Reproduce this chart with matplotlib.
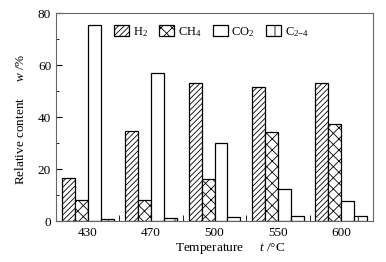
import numpy as np
import matplotlib
matplotlib.use('Agg')
import matplotlib.pyplot as plt
from matplotlib.ticker import MultipleLocator

plt.rcParams['font.family'] = ['Liberation Serif', 'DejaVu Serif']
plt.rcParams['mathtext.fontset'] = 'custom'
plt.rcParams['mathtext.rm'] = 'Liberation Serif'
plt.rcParams['mathtext.it'] = 'Liberation Serif:italic'
plt.rcParams['hatch.linewidth'] = 0.6

temps = ['430', '470', '500', '550', '600']
h2 = [16.5, 34.5, 53, 51.5, 53]
ch4 = [8, 8, 16, 34.2, 37.5]
co2 = [75.5, 57, 30, 12.3, 7.8]
c24 = [0.7, 1.0, 1.6, 2.0, 2.0]

labels = ['H$_2$', 'CH$_4$', 'CO$_2$', 'C$_{2\\mathrm{-}4}$']
hatches = ['//////', 'xxx', '', '|']

fig = plt.figure(figsize=(3.86, 2.62), dpi=100)
ax = fig.add_axes([56/386, 1-221/262, 317/386, 208/262])

x = np.arange(len(temps))
w = 0.205
for i, (vals, lab, h) in enumerate(zip([h2, ch4, co2, c24], labels, hatches)):
    ax.bar(x + (i - 1.5) * w, vals, w, facecolor='white', edgecolor='black',
           hatch=h, linewidth=0.9, label=lab)

ax.set_xlim(-0.5, 4.5)
ax.set_ylim(0, 80)
ax.set_xticks(x)
ax.set_xticklabels(temps)
ax.set_xticks(x[:-1] + 0.5, minor=True)
ax.tick_params(axis='x', which='major', length=0, labelsize=9.5, pad=4)
ax.tick_params(axis='x', which='minor', direction='in', length=4)
ax.yaxis.set_major_locator(MultipleLocator(20))
ax.yaxis.set_minor_locator(MultipleLocator(10))
ax.tick_params(axis='y', which='both', direction='in', labelsize=9.5)
ax.tick_params(axis='y', which='major', length=4)
ax.tick_params(axis='y', which='minor', length=2.5)
for s in ax.spines.values():
    s.set_color('#666666')
    s.set_linewidth(0.8)

ax.set_ylabel('Relative content     $\\mathit{w}$ /%', fontsize=9.5)
ax.yaxis.set_label_coords(-0.092, 0.49)
ax.set_xlabel('Temperature     $\\mathit{t}$ /\u00b0C', fontsize=9.5)
ax.xaxis.set_label_coords(0.55, -0.095)

ax.legend(loc='upper center', bbox_to_anchor=(0.49, 0.985), ncol=4, frameon=False,
          fontsize=9, handlelength=1.2, handleheight=1.0, handletextpad=0.3,
          columnspacing=0.9, borderaxespad=0.3)

fig.savefig('out.png', dpi=100)
